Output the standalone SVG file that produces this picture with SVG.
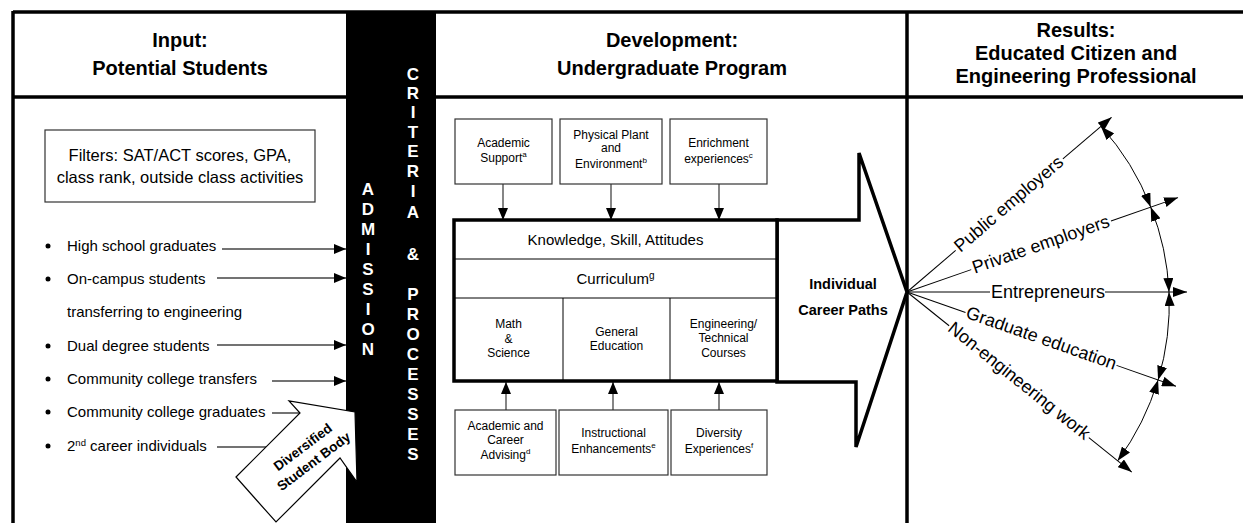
<svg xmlns="http://www.w3.org/2000/svg" width="1243" height="523" viewBox="0 0 1243 523">
<style>
text{font-family:"Liberation Sans",Arial,sans-serif;fill:#000}
.h{font-size:20px;font-weight:bold;text-anchor:middle}
.li{font-size:15px}
.fl{font-size:16.5px;text-anchor:middle}
.sm{font-size:12px;text-anchor:middle}
.md{font-size:15px;text-anchor:middle}
.bar{font-size:17px;font-weight:bold;fill:#fff;text-anchor:middle}
.ray{font-size:18px}
.box{fill:#fff;stroke:#333;stroke-width:1.2}
.ln{stroke:#444;stroke-width:1.3;fill:none}
.thin{stroke:#000;stroke-width:1;fill:none}
.frame{stroke:#000;stroke-width:3.5;fill:none}
</style>
<defs>
<marker id="ah" viewBox="0 0 12 10" refX="12" refY="5" markerWidth="12" markerHeight="10" markerUnits="userSpaceOnUse" orient="auto-start-reverse"><path d="M0,0 L12,5 L0,10 z" fill="#000"/></marker>
<marker id="ah2" viewBox="0 0 14 10" refX="14" refY="5" markerWidth="14" markerHeight="10" markerUnits="userSpaceOnUse" orient="auto-start-reverse"><path d="M0,0 L14,5 L0,10 z" fill="#000"/></marker>
</defs>

<g id="frame">
<line class="frame" x1="13" y1="12" x2="1243" y2="12"/>
<line class="frame" x1="13" y1="97" x2="1243" y2="97"/>
<line class="frame" x1="13" y1="11" x2="13" y2="523"/>
<line class="frame" x1="907" y1="11" x2="907" y2="523"/>
</g>

<g id="headers">
<text class="h" x="180" y="47">Input:</text>
<text class="h" x="180" y="75">Potential Students</text>
<text class="h" x="672" y="47">Development:</text>
<text class="h" x="672" y="75">Undergraduate Program</text>
<text class="h" x="1076" y="37">Results:</text>
<text class="h" x="1076" y="60">Educated Citizen and</text>
<text class="h" x="1076" y="83">Engineering Professional</text>
</g>

<g id="filters">
<rect class="box" x="45" y="130" width="270" height="72"/>
<text class="fl" x="180" y="161">Filters: SAT/ACT scores, GPA,</text>
<text class="fl" x="180" y="183">class rank, outside class activities</text>
</g>

<g id="student-list">
<circle cx="48" cy="246" r="2.5"/><text class="li" x="67" y="251">High school graduates</text>
<circle cx="48" cy="279" r="2.5"/><text class="li" x="67" y="284">On-campus students</text>
<text class="li" x="67" y="317">transferring to engineering</text>
<circle cx="48" cy="346" r="2.5"/><text class="li" x="67" y="351">Dual degree students</text>
<circle cx="48" cy="379" r="2.5"/><text class="li" x="67" y="384">Community college transfers</text>
<circle cx="48" cy="412" r="2.5"/><text class="li" x="67" y="417">Community college graduates</text>
<circle cx="48" cy="446" r="2.5"/><text class="li" x="67" y="451">2<tspan font-size="9.5" dy="-5">nd</tspan><tspan dy="5"> career individuals</tspan></text>
</g>

<g id="admission-bar">
<rect x="346" y="11" width="90" height="512" fill="#000"/>
<text class="bar" x="368" y="195">A</text>
<text class="bar" x="368" y="215">D</text>
<text class="bar" x="368" y="235">M</text>
<text class="bar" x="368" y="255">I</text>
<text class="bar" x="368" y="275">S</text>
<text class="bar" x="368" y="295">S</text>
<text class="bar" x="368" y="315">I</text>
<text class="bar" x="368" y="335">O</text>
<text class="bar" x="368" y="355">N</text>
<text class="bar" x="413" y="80">C</text>
<text class="bar" x="413" y="99">R</text>
<text class="bar" x="413" y="118">I</text>
<text class="bar" x="413" y="138">T</text>
<text class="bar" x="413" y="157">E</text>
<text class="bar" x="413" y="177">R</text>
<text class="bar" x="413" y="197">I</text>
<text class="bar" x="413" y="218">A</text>
<text class="bar" x="413" y="260">&amp;</text>
<text class="bar" x="413" y="300">P</text>
<text class="bar" x="413" y="320">R</text>
<text class="bar" x="413" y="340">O</text>
<text class="bar" x="413" y="360">C</text>
<text class="bar" x="413" y="380">E</text>
<text class="bar" x="413" y="400">S</text>
<text class="bar" x="413" y="420">S</text>
<text class="bar" x="413" y="440">E</text>
<text class="bar" x="413" y="460">S</text>
</g>

<g id="connectors">
<line class="ln" x1="222" y1="249" x2="346" y2="249" marker-end="url(#ah)"/>
<line class="ln" x1="217" y1="278" x2="346" y2="278" marker-end="url(#ah)"/>
<line class="ln" x1="217" y1="345" x2="346" y2="345" marker-end="url(#ah)"/>
<line class="ln" x1="272" y1="381" x2="346" y2="381" marker-end="url(#ah)" stroke="#000"/>
<line class="ln" x1="272" y1="413" x2="305" y2="413"/>
<line class="ln" x1="217" y1="447" x2="272" y2="447"/>
<line class="ln" x1="503" y1="184" x2="503" y2="220" marker-end="url(#ah)"/>
<line class="ln" x1="611" y1="184" x2="611" y2="220" marker-end="url(#ah)"/>
<line class="ln" x1="719" y1="184" x2="719" y2="220" marker-end="url(#ah)"/>
<line class="ln" x1="506" y1="410" x2="506" y2="382" marker-end="url(#ah)"/>
<line class="ln" x1="613" y1="410" x2="613" y2="382" marker-end="url(#ah)"/>
<line class="ln" x1="719" y1="410" x2="719" y2="382" marker-end="url(#ah)"/>
</g>

<g id="diversified-arrow">
<polygon points="236,477 300,413 289,401 355,412 357,482 340,458 276,522" fill="#fff" stroke="#000" stroke-width="1.2"/>
<g transform="translate(308,454) rotate(-37)">
<text x="0" y="-4" font-size="13.5" font-weight="bold" text-anchor="middle">Diversified</text>
<text x="0" y="14" font-size="13.5" font-weight="bold" text-anchor="middle">Student Body</text>
</g>
</g>

<g id="career-arrow">
<polygon points="777,220 859,220 859,153 907,292 856,447 856,382 777,382" fill="#fff" stroke="#000" stroke-width="3.5" stroke-linejoin="miter"/>
<text x="843" y="289" font-size="14.5" font-weight="bold" text-anchor="middle">Individual</text>
<text x="843" y="315" font-size="14.5" font-weight="bold" text-anchor="middle">Career Paths</text>
</g>

<g id="academic-support">
<rect class="box" x="455" y="119" width="97" height="65"/>
<text class="sm" x="503.5" y="147">Academic</text>
<text class="sm" x="503.5" y="162">Support<tspan font-size="8" dy="-5">a</tspan></text>
</g>
<g id="physical-plant">
<rect class="box" x="560" y="119" width="102" height="65"/>
<text class="sm" x="611" y="139">Physical Plant</text>
<text class="sm" x="611" y="152">and</text>
<text class="sm" x="611" y="168">Environment<tspan font-size="8" dy="-5">b</tspan></text>
</g>
<g id="enrichment">
<rect class="box" x="670" y="119" width="97" height="65"/>
<text class="sm" x="718.5" y="147">Enrichment</text>
<text class="sm" x="718.5" y="163">experiences<tspan font-size="8" dy="-5">c</tspan></text>
</g>

<g id="program-box">
<rect x="454" y="220" width="323" height="161" fill="#fff" stroke="#000" stroke-width="3.5"/>
<line class="thin" x1="454" y1="259" x2="777" y2="259" stroke-width="1.5"/>
<line class="thin" x1="454" y1="298" x2="777" y2="298" stroke-width="1.5"/>
<line class="thin" x1="563" y1="298" x2="563" y2="381" stroke-width="1.5"/>
<line class="thin" x1="670" y1="298" x2="670" y2="381" stroke-width="1.5"/>
<text class="md" x="615.5" y="245">Knowledge, Skill, Attitudes</text>
<text class="md" x="615.5" y="284">Curriculum<tspan font-size="10" dy="-5">g</tspan></text>
<text class="sm" x="508.5" y="328">Math</text>
<text class="sm" x="508.5" y="343">&amp;</text>
<text class="sm" x="508.5" y="357">Science</text>
<text class="sm" x="616.5" y="336">General</text>
<text class="sm" x="616.5" y="350">Education</text>
<text class="sm" x="723.5" y="328">Engineering/</text>
<text class="sm" x="723.5" y="342">Technical</text>
<text class="sm" x="723.5" y="357">Courses</text>
</g>

<g id="advising">
<rect class="box" x="455" y="410" width="101" height="65"/>
<text class="sm" x="505.5" y="430">Academic and</text>
<text class="sm" x="505.5" y="444">Career</text>
<text class="sm" x="505.5" y="459">Advising<tspan font-size="8" dy="-5">d</tspan></text>
</g>
<g id="instructional">
<rect class="box" x="559" y="410" width="109" height="65"/>
<text class="sm" x="613.5" y="437">Instructional</text>
<text class="sm" x="613.5" y="453">Enhancements<tspan font-size="8" dy="-5">e</tspan></text>
</g>
<g id="diversity">
<rect class="box" x="671" y="410" width="96" height="65"/>
<text class="sm" x="719" y="437">Diversity</text>
<text class="sm" x="719" y="453">Experiences<tspan font-size="8" dy="-5">f</tspan></text>
</g>

<g id="career-rays">
<g transform="translate(907,292) rotate(-40.5)">
<line class="thin" x1="0" y1="0" x2="64" y2="0"/>
<text class="ray" x="66" y="5">Public employers</text>
<line class="thin" x1="205" y1="0" x2="269" y2="0" marker-end="url(#ah2)"/>
</g>
<g transform="translate(907,292) rotate(-19.2)">
<line class="thin" x1="0" y1="0" x2="68" y2="0"/>
<text class="ray" x="70" y="5">Private employers</text>
<line class="thin" x1="216" y1="0" x2="287" y2="0" marker-end="url(#ah2)"/>
</g>
<g transform="translate(907,292)">
<line class="thin" x1="0" y1="0" x2="83" y2="0" stroke="#666"/>
<text class="ray" x="84" y="6">Entrepreneurs</text>
<line class="thin" x1="198" y1="0" x2="280" y2="0" stroke="#666" marker-end="url(#ah2)"/>
</g>
<g transform="translate(907,292) rotate(19.3)">
<line class="thin" x1="0" y1="0" x2="62" y2="0"/>
<text class="ray" x="63" y="5">Graduate education</text>
<line class="thin" x1="222" y1="0" x2="285" y2="0" marker-end="url(#ah2)"/>
</g>
<g transform="translate(907,292) rotate(38.7)">
<line class="thin" x1="0" y1="0" x2="54" y2="0"/>
<text class="ray" x="55" y="5">Non-engineering work</text>
<line class="thin" x1="233" y1="0" x2="288" y2="0" marker-end="url(#ah2)"/>
</g>
<path class="thin" d="M1100.9,126.4 A256.5,256.5 0 0 1 1150.7,207.1" marker-start="url(#ah2)" marker-end="url(#ah2)"/>
<path class="thin" d="M1150.7,207.1 A260,260 0 0 1 1169,292" marker-start="url(#ah2)" marker-end="url(#ah2)"/>
<path class="thin" d="M1169,292 A264,264 0 0 1 1158.1,379.9" marker-start="url(#ah2)" marker-end="url(#ah2)"/>
<path class="thin" d="M1158.1,379.9 A268,268 0 0 1 1117.7,460.8" marker-start="url(#ah2)" marker-end="url(#ah2)"/>
</g>
</svg>
